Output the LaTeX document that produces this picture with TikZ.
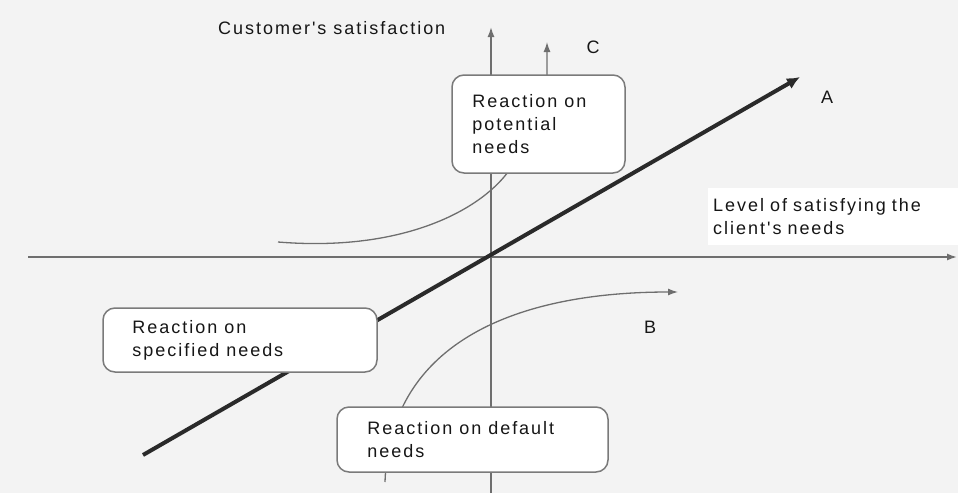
\documentclass[tikz,border=0pt]{standalone}
\usepackage{fontspec}
\setmainfont[LetterSpace=11, Ligatures=TeXOff]{Liberation Sans}
\usetikzlibrary{arrows.meta}
\definecolor{bgc}{HTML}{F3F3F3}
\definecolor{axisc}{HTML}{6E6E6E}
\definecolor{thickc}{HTML}{2A2A2A}
\definecolor{boxc}{HTML}{7A7A7A}
\definecolor{txtc}{HTML}{161616}
\tikzset{
  axisline/.style={draw=axisc, line width=1.5pt, -{Latex[length=10pt,width=7pt]}},
  curveline/.style={draw=axisc, line width=1.3pt},
  bigarrow/.style={draw=thickc, line width=4pt, -{Latex[length=13pt,width=12pt]}},
  rbox/.style={draw=boxc, line width=1.5pt, fill=white, rounded corners=12pt, inner sep=0pt},
  lbl/.style={text=txtc, inner sep=0pt, align=left, font=\fontsize{18}{23}\selectfont},
}
\begin{document}
\begin{tikzpicture}[x=1pt,y=-1pt]
\useasboundingbox[fill=bgc] (0,0) rectangle (958,493);
% coordinates
\coordinate (hs) at (28,257);
\coordinate (he) at (957,257);
\coordinate (vs) at (491,493);
\coordinate (ve) at (491,27);
\coordinate (as) at (143,455);
\coordinate (ae) at (800,77);
\coordinate (cs) at (278,242);
\coordinate (cm) at (508,172);
\coordinate (ct) at (547,75);
\coordinate (ce) at (547,42);
\coordinate (bs) at (385,482);
\coordinate (be) at (678,292);
% axes
\draw[axisline] (hs) -- (he);
\draw[axisline] (vs) -- (ve);
% curves
\draw[curveline, -{Latex[length=10pt,width=7pt]}] (cs) .. controls (400,252) and (478,212) .. (cm)
   .. controls (530,140) and (547,110) .. (ct) -- (ce);
\draw[curveline, -{Latex[length=10pt,width=7pt]}] (bs) .. controls (390,340) and (520,292) .. (be);
% thick line A
\draw[bigarrow] (as) -- (ae);
% boxes
\node[rbox, minimum width=173pt, minimum height=98pt] (pot) at (538.5,124) {};
\node[lbl, anchor=west] (potT) at ([xshift=21pt]pot.west) {Reaction on\\potential\\needs};
\node[rbox, minimum width=274pt, minimum height=64pt] (spec) at (240,340) {};
\node[lbl, anchor=west] (specT) at ([xshift=30pt]spec.west) {Reaction on\\specified needs};
\node[rbox, minimum width=271pt, minimum height=65pt] (def) at (472.5,439.5) {};
\node[lbl, anchor=west] (defT) at ([xshift=31pt]def.west) {Reaction on default\\needs};
% labels
\node[lbl, anchor=base west] (ylab) at (218,34) {Customer's satisfaction};
\node[lbl, fill=white, anchor=north west, minimum width=250pt, minimum height=57pt, text width=240pt, inner xsep=5pt] (xlab) at (708,188) {Level of satisfying the\\client's needs};
\node[lbl] (labC) at (593,47) {C};
\node[lbl] (labA) at (827,97) {A};
\node[lbl] (labB) at (650,327) {B};
\end{tikzpicture}
\end{document}
